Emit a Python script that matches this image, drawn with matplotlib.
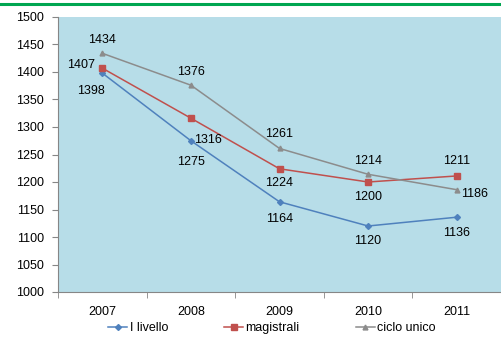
import matplotlib.pyplot as plt
from matplotlib.lines import Line2D

years = ['2007', '2008', '2009', '2010', '2011']
livello = [1398, 1275, 1164, 1120, 1136]
magistrali = [1407, 1316, 1224, 1200, 1211]
ciclo = [1434, 1376, 1261, 1214, 1186]
names = ['I livello', 'magistrali', 'ciclo unico']

# label offsets in pixels
off_liv = [(-11, -18), (0, -21), (0, -17), (0, -15), (0, -16)]
off_mag = [(-21, 3), (17, -22), (0, -14), (0, -15), (0, 15)]
off_cic = [(0, 13), (0, 13), (0, 14), (0, 13), (18, -4)]

plt.rcParams['font.family'] = ['Liberation Sans', 'DejaVu Sans']
fig = plt.figure(figsize=(5.01, 3.42), dpi=100)
fig.add_artist(Line2D([0, 1], [1 - 3.5 / 342, 1 - 3.5 / 342], color='#00A651', lw=2.2))

ax = fig.add_axes([58 / 501, 50 / 342, 443 / 501, 275 / 342])
ax.set_facecolor('#B7DDE8')
x = range(len(years))
series = [
    (livello, '#4F81BD', 'D', 3, off_liv),
    (magistrali, '#C0504D', 's', 4.5, off_mag),
    (ciclo, '#8C8C8C', '^', 3.5, off_cic),
]
for (vals, col, mk, ms, offs), nm in zip(series, names):
    ax.plot(x, vals, color=col, marker=mk, markersize=ms, lw=1.1, label=nm)
    for xi, v, o in zip(x, vals, offs):
        ax.annotate(str(v), (xi, v), xytext=o, textcoords='offset pixels',
                    ha='center', va='center', fontsize=9, color='black')

ax.set_xlim(-0.5, 4.5)
ax.set_ylim(1000, 1500)
ax.set_yticks(range(1000, 1501, 50))
ax.set_xticks(x)
ax.set_xticklabels(years)
ax.set_xticks([i - 0.5 for i in range(6)], minor=True)
ax.tick_params(axis='x', which='major', length=0, pad=10, labelsize=9)
ax.tick_params(axis='x', which='minor', length=4, color='#868686')
ax.tick_params(axis='y', length=4, color='#868686', labelsize=9, pad=6)
for s in ['top', 'right']:
    ax.spines[s].set_visible(False)
for s in ['left', 'bottom']:
    ax.spines[s].set_color('#868686')

fig.legend(loc='center', bbox_to_anchor=(272 / 501, 1 - 328 / 342), ncol=3, frameon=False,
           fontsize=9, handlelength=1.5, handletextpad=0.2, columnspacing=4.5)

fig.savefig('out.png', dpi=100)
